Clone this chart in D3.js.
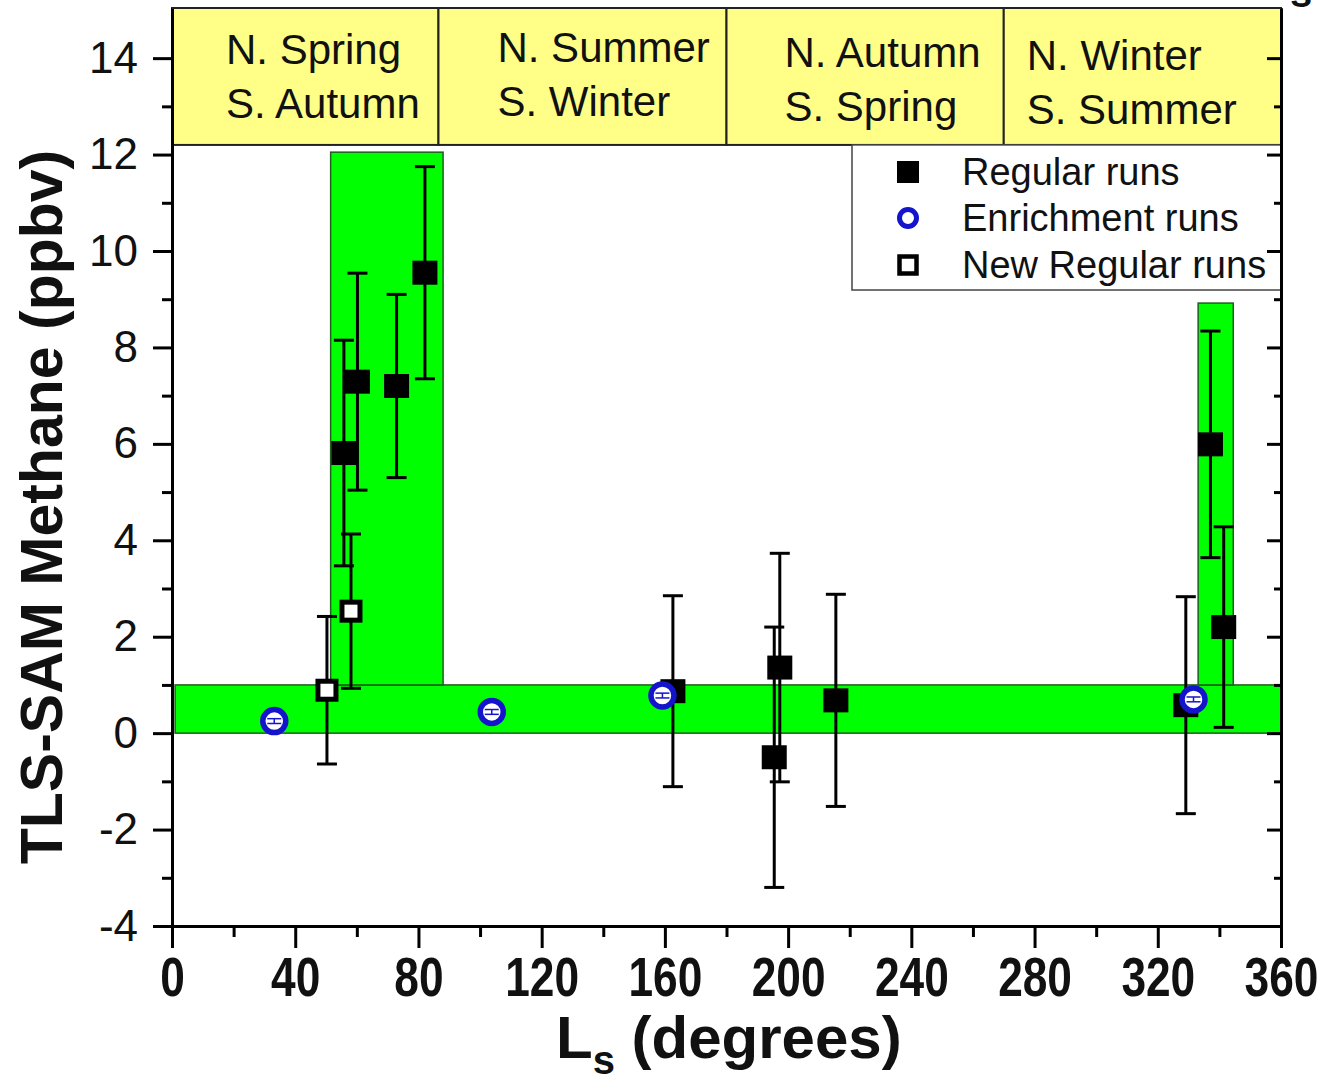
<!DOCTYPE html>
<html>
<head>
<meta charset="utf-8">
<script src="https://cdn.jsdelivr.net/npm/d3@7"></script>
<style>
  html, body { margin: 0; padding: 0; background: #ffffff; }
  svg { display: block; font-family: "Liberation Sans", Arial, sans-serif; }
</style>
</head>
<body>
<svg id="chart" width="1327" height="1085"></svg>
<script>
// ---------------- DATA ----------------
// Regular runs (filled squares)
const regularLs  = [55.8, 60.2, 72.9, 82.1, 162.6, 195.5, 197.3, 215.5, 329.1, 337.1, 341.4];
const regularVal = [5.81, 7.29, 7.20, 9.55, 0.87, -0.50, 1.36, 0.68, 0.58, 5.99, 2.20];
const regularErr = [2.34, 2.25, 1.90, 2.20, 1.98, 2.70, 2.37, 2.20, 2.25, 2.35, 2.08];
// Enrichment runs (blue open circles)
const enrichLs  = [33.2, 103.8, 159.2, 331.6];
const enrichVal = [0.25, 0.44, 0.78, 0.70];
const enrichErr = [0.05, 0.05, 0.05, 0.05];
// New regular runs (open squares)
const newRegLs  = [50.3, 58.1];
const newRegVal = [0.89, 2.53];
const newRegErr = [1.53, 1.60];
// Green shaded bands
const bandLsStart = [1, 51.5, 333.1];
const bandLsEnd   = [360, 88, 344.5];
const bandLow     = [0, 1, 1];
const bandHigh    = [1, 12.05, 8.92];
// Season boxes
const seasonStart = [0, 86.5, 180, 270];
const seasonEnd   = [86.5, 180, 270, 360];
const seasonNorth = ["N. Spring", "N. Summer", "N. Autumn", "N. Winter"];
const seasonSouth = ["S. Autumn", "S. Winter", "S. Spring", "S. Summer"];
const seasonTop   = 15.04;
const seasonBottom = 12.2;
// Axis ticks
const xMajorTicks = [0, 40, 80, 120, 160, 200, 240, 280, 320, 360];
const xMinorTicks = [20, 60, 100, 140, 180, 220, 260, 300, 340];
const yMajorTicks = [-4, -2, 0, 2, 4, 6, 8, 10, 12, 14];
const yMinorTicks = [-3, -1, 1, 3, 5, 7, 9, 11, 13];
const legendLabels = ["Regular runs", "Enrichment runs", "New Regular runs"];
const xTitle = "L";
const xTitleSub = "s";
const xTitleRest = " (degrees)";
const yTitle = "TLS-SAM Methane (ppbv)";

// ---------------- LAYOUT ----------------
(function () {
const svg = d3.select("#chart");
const pLeft = 172, pRight = 1281, pTop = 8, pBottom = 926;
const x = d3.scaleLinear().domain([0, 360]).range([pLeft, pRight]);
const y = d3.scaleLinear().domain([-4, 15.04]).range([pBottom, pTop]);
const FONT = '"Liberation Sans", Arial, sans-serif';
const BLUE = "#1414cc";

// green bands
const bandIdx = d3.range(bandLsStart.length);
svg.append("g").selectAll("rect").data(bandIdx).join("rect")
  .attr("x", i => x(bandLsStart[i]))
  .attr("y", i => y(bandHigh[i]))
  .attr("width", i => x(bandLsEnd[i]) - x(bandLsStart[i]))
  .attr("height", i => y(bandLow[i]) - y(bandHigh[i]))
  .attr("fill", "#00ff00")
  .attr("stroke", "#1f5f1f")
  .attr("stroke-width", 1.5);

// season boxes
const sIdx = d3.range(seasonStart.length);
const gs = svg.append("g");
gs.selectAll("rect").data(sIdx).join("rect")
  .attr("x", i => x(seasonStart[i]))
  .attr("y", y(seasonTop))
  .attr("width", i => x(seasonEnd[i]) - x(seasonStart[i]))
  .attr("height", y(seasonBottom) - y(seasonTop))
  .attr("fill", "#ffff88")
  .attr("stroke", "#222")
  .attr("stroke-width", 2);
const labelDx = [54, 59, 58, 23];
const labelDy = [0, -2, 3, 6];
gs.selectAll("text.n").data(sIdx).join("text").attr("class", "n")
  .attr("x", i => x(seasonStart[i]) + labelDx[i])
  .attr("y", i => 64 + labelDy[i])
  .attr("font-size", 42).attr("fill", "#111")
  .text(i => seasonNorth[i]);
gs.selectAll("text.s").data(sIdx).join("text").attr("class", "s")
  .attr("x", i => x(seasonStart[i]) + labelDx[i])
  .attr("y", i => 118 + labelDy[i])
  .attr("font-size", 42).attr("fill", "#111")
  .text(i => seasonSouth[i]);

// legend
const lg = svg.append("g");
lg.append("rect").attr("x", 852).attr("y", y(seasonBottom)).attr("width", pRight - 852).attr("height", 290 - y(seasonBottom))
  .attr("fill", "#fff").attr("stroke", "#444").attr("stroke-width", 1.5);
const legY = [172, 218, 265];
lg.append("rect").attr("x", 908 - 11).attr("y", legY[0] - 11).attr("width", 22).attr("height", 22).attr("fill", "#000");
lg.append("circle").attr("cx", 908).attr("cy", legY[1]).attr("r", 8.5).attr("fill", "#fff").attr("stroke", BLUE).attr("stroke-width", 5);
lg.append("rect").attr("x", 908 - 8.5).attr("y", legY[2] - 8.5).attr("width", 17).attr("height", 17).attr("fill", "#fff").attr("stroke", "#000").attr("stroke-width", 4.5);
lg.selectAll("text").data(legendLabels).join("text")
  .attr("x", 962).attr("y", (d, i) => legY[i] + 13)
  .attr("font-size", 38).attr("fill", "#111").text(d => d);

// error bars helper
function errorBars(g, Ls, val, err, color, width, cap) {
  const idx = d3.range(Ls.length);
  g.selectAll(null).data(idx).join("line")
    .attr("x1", i => x(Ls[i])).attr("x2", i => x(Ls[i]))
    .attr("y1", i => y(val[i] + err[i])).attr("y2", i => y(val[i] - err[i]))
    .attr("stroke", color).attr("stroke-width", width);
  g.selectAll(null).data(idx).join("line")
    .attr("x1", i => x(Ls[i]) - cap).attr("x2", i => x(Ls[i]) + cap)
    .attr("y1", i => y(val[i] + err[i])).attr("y2", i => y(val[i] + err[i]))
    .attr("stroke", color).attr("stroke-width", width);
  g.selectAll(null).data(idx).join("line")
    .attr("x1", i => x(Ls[i]) - cap).attr("x2", i => x(Ls[i]) + cap)
    .attr("y1", i => y(val[i] - err[i])).attr("y2", i => y(val[i] - err[i]))
    .attr("stroke", color).attr("stroke-width", width);
}

// regular runs
const gr = svg.append("g");
errorBars(gr, regularLs, regularVal, regularErr, "#000", 3, 10);
gr.selectAll("rect").data(d3.range(regularLs.length)).join("rect")
  .attr("x", i => x(regularLs[i]) - 12.5).attr("y", i => y(regularVal[i]) - 12)
  .attr("width", 25).attr("height", 24).attr("fill", "#000");

// new regular runs
const gn = svg.append("g");
errorBars(gn, newRegLs, newRegVal, newRegErr, "#000", 3, 10);
gn.selectAll("rect").data(d3.range(newRegLs.length)).join("rect")
  .attr("x", i => x(newRegLs[i]) - 9).attr("y", i => y(newRegVal[i]) - 9)
  .attr("width", 18).attr("height", 18).attr("fill", "#fff").attr("stroke", "#000").attr("stroke-width", 5);

// enrichment runs
const ge = svg.append("g");
ge.selectAll("circle").data(d3.range(enrichLs.length)).join("circle")
  .attr("cx", i => x(enrichLs[i])).attr("cy", i => y(enrichVal[i])).attr("r", 11.5)
  .attr("fill", "#fff").attr("stroke", BLUE).attr("stroke-width", 5.5);
errorBars(ge, enrichLs, enrichVal, enrichErr, BLUE, 1.5, 7);

// ---------------- AXES ----------------
function styleAxis(g) {
  g.select(".domain").attr("stroke", "#000").attr("stroke-width", 3);
  g.selectAll(".tick line").attr("stroke", "#000").attr("stroke-width", 3);
}
const plain = d => String(d);
const gl = svg.append("g").attr("transform", `translate(${pLeft},0)`)
  .call(d3.axisLeft(y).tickValues(yMajorTicks).tickSize(19).tickSizeOuter(0).tickPadding(15).tickFormat(plain));
styleAxis(gl);
gl.selectAll(".tick text").attr("font-size", 44).attr("font-family", FONT).attr("fill", "#111");
const glm = svg.append("g").attr("transform", `translate(${pLeft},0)`)
  .call(d3.axisLeft(y).tickValues(yMinorTicks).tickSize(10).tickSizeOuter(0).tickFormat(""));
styleAxis(glm);
const grt = svg.append("g").attr("transform", `translate(${pRight},0)`)
  .call(d3.axisLeft(y).tickValues(yMajorTicks).tickSize(14).tickSizeOuter(0).tickFormat(""));
styleAxis(grt);
const grm = svg.append("g").attr("transform", `translate(${pRight},0)`)
  .call(d3.axisLeft(y).tickValues(yMinorTicks).tickSize(7).tickSizeOuter(0).tickFormat(""));
styleAxis(grm);
const gb = svg.append("g").attr("transform", `translate(0,${pBottom})`)
  .call(d3.axisBottom(x).tickValues(xMajorTicks).tickSize(22).tickSizeOuter(0).tickPadding(8).tickFormat(plain));
styleAxis(gb);
gb.selectAll(".tick text").attr("font-size", 56).attr("font-weight", "bold").attr("font-family", FONT).attr("fill", "#111")
  .attr("transform", "scale(0.79,1)");
const gbm = svg.append("g").attr("transform", `translate(0,${pBottom})`)
  .call(d3.axisBottom(x).tickValues(xMinorTicks).tickSize(11).tickSizeOuter(0).tickFormat(""));
styleAxis(gbm);
svg.append("line").attr("x1", pLeft).attr("x2", pRight).attr("y1", pTop).attr("y2", pTop)
  .attr("stroke", "#222").attr("stroke-width", 2);

// titles
svg.append("text").attr("transform", "translate(62,507) rotate(-90)")
  .attr("text-anchor", "middle").attr("font-size", 59).attr("font-weight", "bold").attr("fill", "#111")
  .text(yTitle);
const xt = svg.append("text").attr("x", 556).attr("y", 1058)
  .attr("font-size", 60).attr("font-weight", "bold").attr("fill", "#111");
xt.append("tspan").text(xTitle);
xt.append("tspan").attr("font-size", 40).attr("dy", 16).text(xTitleSub);
xt.append("tspan").attr("dy", -16).text(xTitleRest);

svg.append("text").attr("x", 1290).attr("y", 7).attr("font-size", 40).attr("font-weight", "bold").attr("fill", "#111").text("s");
})();
</script>
</body>
</html>
